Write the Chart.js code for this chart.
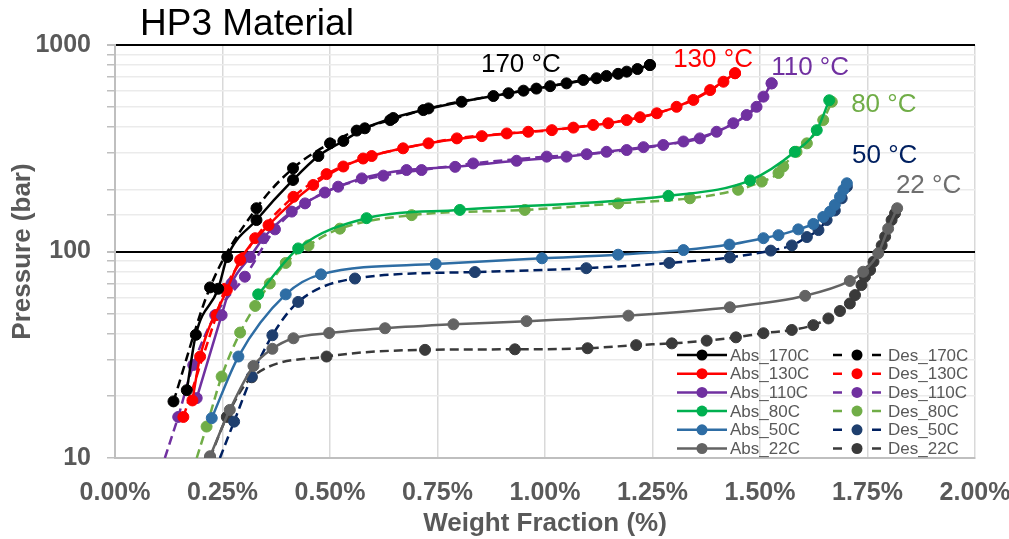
<!DOCTYPE html>
<html>
<head>
<meta charset="utf-8">
<script src="https://cdn.jsdelivr.net/npm/chart.js@4"></script>
<style>
  html, body { margin: 0; padding: 0; background: #fff; }
  #chart { display: block; }
</style>
</head>
<body>
<canvas id="chart" width="1009" height="539"></canvas>
<script>
// values: [weight fraction %, pressure bar]
const abs170 = [[0.167, 21.3], [0.188, 39.5], [0.240, 66], [0.261, 94], [0.329, 142], [0.414, 222], [0.473, 290], [0.531, 343], [0.581, 395], [0.647, 443], [0.717, 484], [0.806, 531], [0.880, 566], [0.950, 601], [1.012, 632], [1.089, 677], [1.143, 708], [1.190, 743], [1.244, 800]]
const des170 = [[0.136, 18.8], [0.221, 67], [0.329, 162], [0.414, 253], [0.500, 334], [0.562, 385], [0.640, 433], [0.729, 493], [0.915, 584], [0.980, 615], [1.050, 652], [1.120, 690], [1.170, 725], [1.215, 765], [1.244, 800]]
const abs130 = [[0.180, 19], [0.198, 31], [0.260, 65], [0.291, 91], [0.357, 134], [0.461, 210], [0.531, 258], [0.597, 290], [0.729, 334], [0.853, 362], [0.961, 380], [1.066, 398], [1.147, 418], [1.221, 447], [1.306, 502], [1.384, 605], [1.442, 730]]
const des130 = [[0.159, 15.8], [0.236, 49.2], [0.256, 66], [0.298, 93], [0.326, 116], [0.415, 184], [0.492, 237], [0.577, 282], [0.670, 316], [0.795, 353], [0.911, 373], [1.016, 387], [1.112, 410], [1.190, 433], [1.260, 467], [1.345, 542], [1.415, 664], [1.442, 730]]
const abs110 = [[0.190, 19.5], [0.248, 49.2], [0.271, 70], [0.314, 94], [0.345, 116], [0.411, 156], [0.488, 193], [0.574, 226], [0.678, 248], [0.791, 257], [0.934, 275], [1.050, 288], [1.143, 304], [1.229, 320], [1.322, 341], [1.399, 380], [1.469, 458], [1.508, 562], [1.527, 652]]
const des110 = [[0.147, 15.8], [0.182, 28.2], [0.233, 49.2], [0.302, 75.5], [0.372, 128], [0.442, 171], [0.519, 206], [0.624, 233], [0.713, 248], [0.833, 267], [1.004, 288], [1.097, 296], [1.190, 310], [1.275, 328], [1.360, 353], [1.438, 418], [1.492, 502], [1.527, 652]]
const des110Tail = [[0.116, 10], [0.147, 15.8]]
const abs80 = [[0.333, 62], [0.426, 103.5], [0.585, 145], [0.802, 159], [1.287, 186], [1.477, 221], [1.581, 304], [1.632, 387], [1.661, 540]]
const des80 = [[0.213, 14.2], [0.248, 24.8], [0.291, 40.5], [0.326, 54.5], [0.360, 70], [0.397, 88], [0.450, 107], [0.523, 129], [0.690, 150], [0.953, 159], [1.170, 171], [1.337, 181], [1.449, 199], [1.504, 218], [1.543, 240], [1.554, 258], [1.585, 304], [1.609, 334], [1.647, 433], [1.667, 531]]
const des80Tail = [[0.190, 10], [0.213, 14.2]]
const abs50 = [[0.225, 15.6], [0.287, 31], [0.397, 62], [0.479, 77.5], [0.746, 87], [0.993, 92.7], [1.170, 96.5], [1.322, 101.6], [1.429, 108], [1.508, 116], [1.543, 120], [1.589, 128], [1.624, 136], [1.647, 147], [1.663, 156], [1.674, 168], [1.686, 184], [1.694, 199], [1.702, 214]]
const des50 = [[0.277, 15], [0.318, 24.8], [0.366, 39.3], [0.426, 57], [0.558, 74], [0.837, 79.5], [1.096, 83], [1.289, 88], [1.430, 93.6], [1.525, 101], [1.574, 107], [1.609, 117.5], [1.636, 127], [1.655, 142], [1.674, 158], [1.690, 181], [1.702, 206]]
const des50Tail = [[0.244, 10], [0.277, 15]]
const abs22 = [[0.221, 10.2], [0.267, 17.1], [0.322, 27.9], [0.366, 33.8], [0.415, 38], [0.498, 40.3], [0.628, 42.5], [0.787, 44.4], [0.957, 46], [1.194, 48.9], [1.430, 53.7], [1.605, 61], [1.709, 72], [1.740, 79.8], [1.775, 98], [1.798, 129], [1.819, 162]]
const des22 = [[0.221, 10], [0.260, 15.8], [0.318, 24.6], [0.492, 31], [0.721, 33.4], [0.930, 33.6], [1.099, 34], [1.212, 35.2], [1.295, 35.9], [1.376, 37], [1.444, 38.4], [1.508, 40.2], [1.574, 41.7], [1.624, 44], [1.659, 47.4], [1.686, 51.5], [1.709, 56], [1.721, 61.5], [1.736, 68.8], [1.744, 75.5], [1.756, 81.3], [1.764, 89.3], [1.783, 107], [1.791, 118], [1.806, 142], [1.814, 153]]

const absLabels = ['Abs_170C', 'Abs_130C', 'Abs_110C', 'Abs_80C', 'Abs_50C', 'Abs_22C']
const desLabels = ['Des_170C', 'Des_130C', 'Des_110C', 'Des_80C', 'Des_50C', 'Des_22C']
const tempLabels = ['170 °C', '130 °C', '110 °C', '80 °C', '50 °C', '22 °C']
const xTicks = [0, 0.25, 0.5, 0.75, 1, 1.25, 1.5, 1.75, 2]
const yTicks = [10, 100, 1000]
const chartTitle = 'HP3 Material'

// styling
const absColors = ['#000000', '#FF0000', '#7030A0', '#00B050', '#2E6DA4', '#636363']
const desColors = ['#000000', '#FF0000', '#7030A0', '#70AD47', '#002060', '#3A3A3A']
const desMarker = ['#000000', '#FF0000', '#7030A0', '#70AD47', '#1F3F6E', '#3A3A3A']
const tempColors = ['#000000', '#FF0000', '#7030A0', '#70AD47', '#002060', '#6E6E6E']
// label anchors in data space (left, baseline)
const tempAnchors = [[0.851, 740], [1.298, 782], [1.526, 716], [1.712, 474], [1.714, 268], [1.816, 192]]
const FONT = '"Liberation Sans", Arial, sans-serif'
const GREY = '#595959'
const DASH = [9, 5]

const absData = [abs170, abs130, abs110, abs80, abs50, abs22]
const desData = [des170, des130, des110, des80, des50, des22]
const tails = [[des110Tail, 2], [des80Tail, 3], [des50Tail, 4]]

function toXY(rows) {
  return rows.map(r => ({ x: r[0], y: r[1] }))
}

function series(label, rows, line, marker, dashed, radius) {
  return {
    label: label,
    data: toXY(rows),
    borderColor: line,
    backgroundColor: marker,
    pointBackgroundColor: marker,
    pointBorderColor: marker,
    pointBorderWidth: 1,
    pointRadius: radius,
    borderWidth: 2.5,
    borderDash: dashed ? DASH : [],
    cubicInterpolationMode: 'monotone',
    fill: false
  }
}

let datasets = []
absData.forEach((rows, i) => datasets.push(series(absLabels[i], rows, absColors[i], absColors[i], false, 5.5)))
desData.forEach((rows, i) => datasets.push(series(desLabels[i], rows, desColors[i], desMarker[i], true, 5.5)))
tails.forEach(t => datasets.push(series('', t[0], desColors[t[1]], desMarker[t[1]], true, 0)))

const isDecade = v => Math.abs(Math.log10(v) - Math.round(Math.log10(v))) < 1e-9

// title, temperature labels and the two-column legend
const overlay = {
  id: 'overlay',
  afterDraw(chart) {
    const ctx = chart.ctx
    const xs = chart.scales.x, ys = chart.scales.y
    ctx.save()
    ctx.textBaseline = 'alphabetic'
    ctx.textAlign = 'left'
    ctx.font = '37px ' + FONT
    ctx.fillStyle = '#000'
    ctx.fillText(chartTitle, 140, 35)

    ctx.font = '26px ' + FONT
    tempLabels.forEach((t, i) => {
      ctx.fillStyle = tempColors[i]
      ctx.fillText(t, xs.getPixelForValue(tempAnchors[i][0]), ys.getPixelForValue(tempAnchors[i][1]))
    })

    ctx.font = '17px ' + FONT
    ctx.textBaseline = 'middle'
    const rowY = i => 355 + i * 18.7
    absLabels.forEach((t, i) => {
      const y = rowY(i)
      ctx.setLineDash([])
      ctx.strokeStyle = absColors[i]
      ctx.lineWidth = 2.5
      ctx.beginPath(); ctx.moveTo(677, y); ctx.lineTo(727, y); ctx.stroke()
      ctx.fillStyle = absColors[i]
      ctx.beginPath(); ctx.arc(702, y, 5.5, 0, Math.PI * 2); ctx.fill()
      ctx.fillStyle = GREY
      ctx.fillText(t, 730, y + 1)
    })
    desLabels.forEach((t, i) => {
      const y = rowY(i)
      ctx.strokeStyle = desColors[i]
      ctx.lineWidth = 2.5
      ctx.beginPath(); ctx.moveTo(833, y); ctx.lineTo(842, y); ctx.moveTo(872, y); ctx.lineTo(881, y); ctx.stroke()
      ctx.fillStyle = desMarker[i]
      ctx.beginPath(); ctx.arc(857, y, 5.5, 0, Math.PI * 2); ctx.fill()
      ctx.fillStyle = GREY
      ctx.fillText(t, 888, y + 1)
    })
    ctx.restore()
  }
}

const config = {
  type: 'line',
  data: { datasets: datasets },
  options: {
    responsive: false,
    devicePixelRatio: 1,
    animation: false,
    events: [],
    layout: { padding: { top: 45, right: 34, bottom: 0, left: 0 } },
    plugins: {
      legend: { display: false },
      tooltip: { enabled: false }
    },
    scales: {
      x: {
        type: 'linear',
        min: 0,
        max: 2,
        afterBuildTicks: scale => { scale.ticks = xTicks.map(v => ({ value: v })) },
        afterFit: scale => {
          scale.height = 81
          scale.paddingLeft = 0
          scale.paddingRight = 0
        },
        ticks: {
          autoSkip: false,
          maxRotation: 0,
          padding: 20,
          color: GREY,
          font: { family: FONT, size: 25, weight: 'bold' },
          callback: v => v.toFixed(2) + '%'
        },
        grid: { color: '#D9D9D9', lineWidth: 1.5, drawTicks: false },
        border: { color: '#BFBFBF', width: 2 },
        title: {
          display: true,
          text: 'Weight Fraction (%)',
          color: GREY,
          padding: { top: 0, bottom: 0 },
          font: { family: FONT, size: 26, weight: 'bold' }
        }
      },
      y: {
        type: 'logarithmic',
        min: 10,
        max: 1000,
        afterFit: scale => {
          scale.width = 115
          scale.paddingTop = 0
          scale.paddingBottom = 0
        },
        ticks: {
          autoSkip: false,
          padding: 16,
          color: GREY,
          font: { family: FONT, size: 25, weight: 'bold' },
          callback: v => (yTicks.includes(Math.round(v)) && isDecade(v)) ? String(Math.round(v)) : ''
        },
        grid: {
          color: c => (c.tick && isDecade(c.tick.value) && c.tick.value > 10) ? '#000000' : '#EBEBEB',
          lineWidth: c => (c.tick && isDecade(c.tick.value) && c.tick.value > 10) ? 2 : 1.5,
          tickLength: 8,
          tickColor: '#BFBFBF'
        },
        border: { color: '#BFBFBF', width: 2 },
        title: {
          display: true,
          text: 'Pressure (bar)',
          color: GREY,
          padding: { top: 7, bottom: 0 },
          font: { family: FONT, size: 26, weight: 'bold' }
        }
      }
    }
  },
  plugins: [overlay]
}

new Chart(document.getElementById('chart').getContext('2d'), config)
</script>
</body>
</html>
